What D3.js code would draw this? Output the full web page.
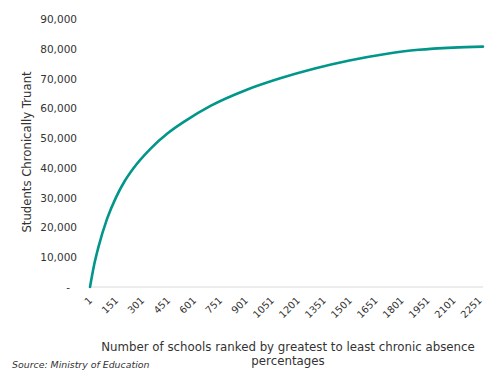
<!DOCTYPE html>
<html>
<head>
<meta charset="utf-8">
<script src="https://cdn.jsdelivr.net/npm/d3@7"></script>
<style>
  html, body { margin: 0; padding: 0; background: #fff; }
  svg { display: block; font-family: "DejaVu Sans", Verdana, sans-serif; }
</style>
</head>
<body>
<svg id="chart" width="500" height="381"></svg>
<script>
// Data
const schoolRank = [1, 25, 50, 100, 150, 200, 250, 350, 450, 550, 700, 900, 1100, 1300, 1500, 1700, 1900, 2100, 2272];
const studentsTruant = [0, 7500, 13500, 23000, 30000, 35500, 39800, 46500, 51700, 55800, 61000, 66200, 70200, 73500, 76200, 78300, 79800, 80550, 80870];
const xTickLabels = ["1","151","301","451","601","751","901","1051","1201","1351","1501","1651","1801","1951","2101","2251"];
const yTickValues = [0, 10000, 20000, 30000, 40000, 50000, 60000, 70000, 80000, 90000];
const yTitle = "Students Chronically Truant";
const xTitleLines = ["Number of schools ranked by greatest to least chronic absence", "percentages"];
const sourceText = "Source: Ministry of Education";

const svg = d3.select("#chart");
const plotLeft = 90, plotRight = 483, plotTop = 19.5, plotBottom = 287;

const x = d3.scaleLinear().domain([1, 2272]).range([plotLeft, plotRight]);
const y = d3.scaleLinear().domain([0, 90000]).range([plotBottom, plotTop]);

const textColor = "#333";

// baseline
svg.append("line")
  .attr("x1", plotLeft).attr("x2", plotRight)
  .attr("y1", y(0)).attr("y2", y(0))
  .attr("stroke", "#d9d9d9").attr("stroke-width", 1);

// y axis labels
const fmt = d3.format(",");
svg.append("g").selectAll("text")
  .data(yTickValues)
  .join("text")
  .attr("x", d => d === 0 ? 70 : 77)
  .attr("y", d => y(d))
  .attr("dy", "0.35em")
  .attr("text-anchor", "end")
  .attr("font-size", "10.5px")
  .attr("fill", textColor)
  .text(d => d === 0 ? "-" : fmt(d));

// x tick labels (rotated)
svg.append("g").selectAll("text")
  .data(xTickLabels)
  .join("text")
  .attr("transform", d => `translate(${x(+d) + 3},${plotBottom + 14}) rotate(-45)`)
  .attr("text-anchor", "end")
  .attr("font-size", "9.8px")
  .attr("fill", textColor)
  .text(d => d);

// line
const pts = schoolRank.map((r, i) => [r, studentsTruant[i]]);
svg.append("path")
  .datum(pts)
  .attr("fill", "none")
  .attr("stroke", "#00968a")
  .attr("stroke-width", 2.6)
  .attr("stroke-linecap", "round")
  .attr("d", d3.line().x(d => x(d[0])).y(d => y(d[1])).curve(d3.curveMonotoneX));

// y title
svg.append("text")
  .attr("transform", `translate(31,152) rotate(-90)`)
  .attr("text-anchor", "middle")
  .attr("font-size", "11.7px")
  .attr("fill", textColor)
  .text(yTitle);

// x title
svg.append("g").selectAll("text")
  .data(xTitleLines)
  .join("text")
  .attr("x", 288)
  .attr("y", (d, i) => 351 + i * 14)
  .attr("text-anchor", "middle")
  .attr("font-size", "11.8px")
  .attr("fill", textColor)
  .text(d => d);

// source
svg.append("text")
  .attr("x", 12)
  .attr("y", 368)
  .attr("font-size", "9.4px")
  .attr("font-style", "italic")
  .attr("fill", textColor)
  .text(sourceText);
</script>
</body>
</html>
